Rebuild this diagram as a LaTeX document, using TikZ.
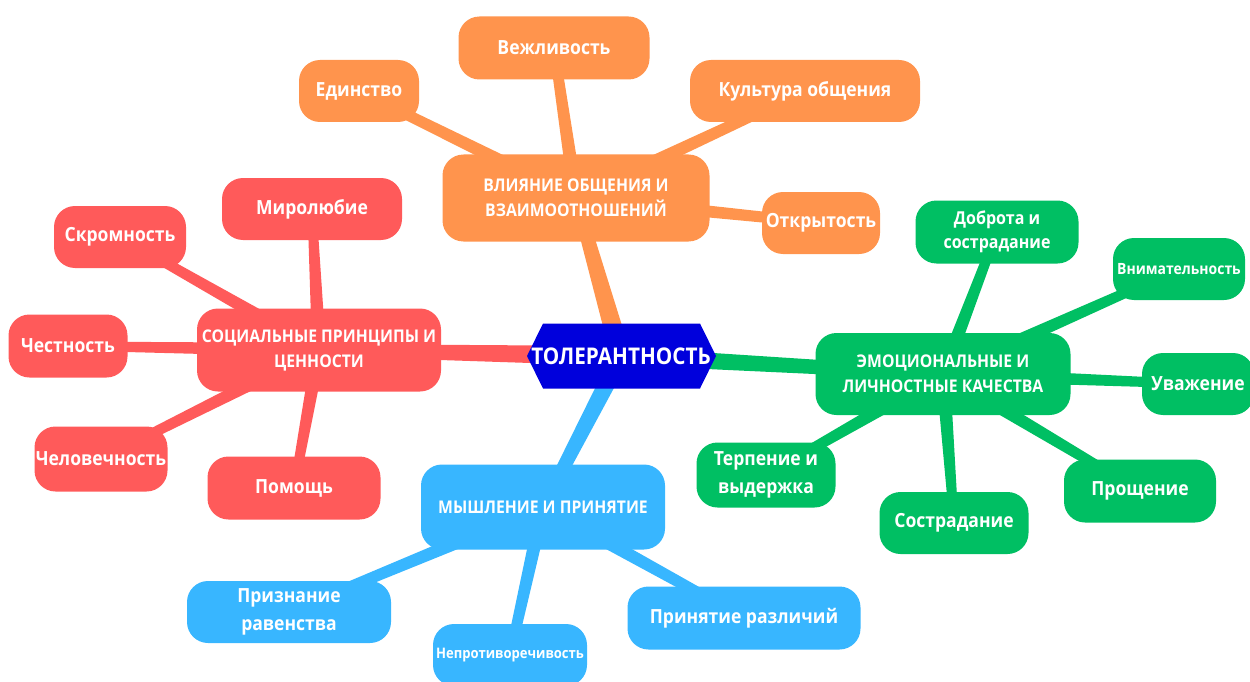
\documentclass[tikz,border=0pt]{standalone}
\usepackage{fontspec}
\setmainfont{Open Sans}[FakeStretch=0.9]
\usetikzlibrary{calc}
\pgfdeclarelayer{background}
\pgfsetlayers{background,main}

\definecolor{ctrblue}{RGB}{0,0,220}
\definecolor{orng}{RGB}{255,148,77}
\definecolor{rd}{RGB}{255,90,90}
\definecolor{grn}{RGB}{0,191,99}
\definecolor{skyb}{RGB}{56,182,255}

\tikzset{
  box/.style 2 args={rectangle,rounded corners=21pt,minimum width=#1,minimum height=#2,
    inner sep=0pt,align=center,text=white,font=\bfseries\fontsize{19.5}{27.5}\selectfont},
  mainbox/.style={font=\bfseries\fontsize{17.5}{25}\selectfont},
  small/.style={font=\bfseries\fontsize{#1}{18}\selectfont}
}

% tapered connector: from, to, half width at from, half width at to, colour
\newcommand{\branch}[5]{%
  \fill[#5] ($(#1)!#3!90:(#2)$) -- ($(#2)!#4!-90:(#1)$) -- ($(#2)!#4!90:(#1)$) -- ($(#1)!#3!-90:(#2)$) -- cycle;}

\begin{document}
\begin{tikzpicture}[x=1pt,y=-1pt]
  \useasboundingbox (0,0) rectangle (1250,682);

  % centre
  \coordinate (c) at (621,356);
  \fill[ctrblue] ([xshift=-94pt]c) -- ([xshift=-78pt,yshift=32.5pt]c) -- ([xshift=79pt,yshift=32.5pt]c)
    -- ([xshift=95pt]c) -- ([xshift=79pt,yshift=-32.5pt]c) -- ([xshift=-78pt,yshift=-32.5pt]c) -- cycle;
  \node[text=white,inner sep=0pt,font=\bfseries\fontsize{23}{28}\selectfont] (tol) at (c) {ТОЛЕРАНТНОСТЬ};

  % orange
  \node[box={267pt}{87pt},mainbox,fill=orng] (obsh) at (576,198) {ВЛИЯНИЕ ОБЩЕНИЯ И\\ВЗАИМООТНОШЕНИЙ};
  \node[box={191pt}{63pt},fill=orng] (vezh) at (554,48) {Вежливость};
  \node[box={120pt}{62pt},fill=orng] (edin) at (359,91) {Единство};
  \node[box={230pt}{62pt},fill=orng] (kult) at (805,91) {Культура общения};
  \node[box={118pt}{62pt},fill=orng] (otkr) at (821,223) {Открытость};

  % red
  \node[box={244pt}{83pt},mainbox,fill=rd] (soc) at (319,350) {СОЦИАЛЬНЫЕ ПРИНЦИПЫ И\\ЦЕННОСТИ};
  \node[box={180pt}{62pt},fill=rd] (mir) at (312,209) {Миролюбие};
  \node[box={132pt}{62pt},fill=rd] (skr) at (120,237) {Скромность};
  \node[box={119pt}{63pt},fill=rd] (chest) at (68,346) {Честность};
  \node[box={133pt}{65pt},fill=rd] (chel) at (101,459) {Человечность};
  \node[box={173pt}{63pt},fill=rd] (pom) at (294,488) {Помощь};

  % blue
  \node[box={244pt}{85pt},mainbox,fill=skyb] (mysh) at (543,507) {МЫШЛЕНИЕ И ПРИНЯТИЕ};
  \node[box={204pt}{62pt},fill=skyb] (priz) at (289,612) {Признание\\равенства};
  \node[box={154pt}{62pt},small=14.5,fill=skyb] (nepr) at (510,655) {Непротиворечивость};
  \node[box={233pt}{63pt},fill=skyb] (prin) at (744,618) {Принятие различий};

  % green
  \node[box={255pt}{82pt},mainbox,fill=grn] (emo) at (943,374) {ЭМОЦИОНАЛЬНЫЕ И\\ЛИЧНОСТНЫЕ КАЧЕСТВА};
  \node[box={163pt}{63pt},fill=grn,font=\bfseries\fontsize{17.8}{24.5}\selectfont] (dobr) at (997,232) {Доброта и\\сострадание};
  \node[box={132pt}{62pt},small=15.5,fill=grn] (vnim) at (1179,269) {Внимательность};
  \node[box={112pt}{62pt},fill=grn] (uvazh) at (1198,384) {Уважение};
  \node[box={152pt}{63pt},fill=grn] (prosch) at (1140,491) {Прощение};
  \node[box={149pt}{62pt},fill=grn] (sostr) at (954,523) {Сострадание};
  \node[box={139pt}{65pt},fill=grn] (terp) at (766,475) {Терпение и\\выдержка};

  \begin{pgfonlayer}{background}
    \branch{tol}{obsh}{10pt}{6pt}{orng}
    \branch{tol}{soc}{10pt}{6pt}{rd}
    \branch{tol}{mysh}{9pt}{6pt}{skyb}
    \branch{tol}{emo}{9pt}{6pt}{grn}
    \foreach \leaf in {vezh,edin,kult,otkr} {\branch{obsh}{\leaf}{7pt}{5pt}{orng}}
    \foreach \leaf in {mir,skr,chest,chel,pom} {\branch{soc}{\leaf}{7pt}{4.5pt}{rd}}
    \foreach \leaf in {priz,nepr,prin} {\branch{mysh}{\leaf}{7pt}{5pt}{skyb}}
    \foreach \leaf in {dobr,vnim,uvazh,prosch,sostr,terp} {\branch{emo}{\leaf}{7pt}{4.5pt}{grn}}
  \end{pgfonlayer}
\end{tikzpicture}
\end{document}
